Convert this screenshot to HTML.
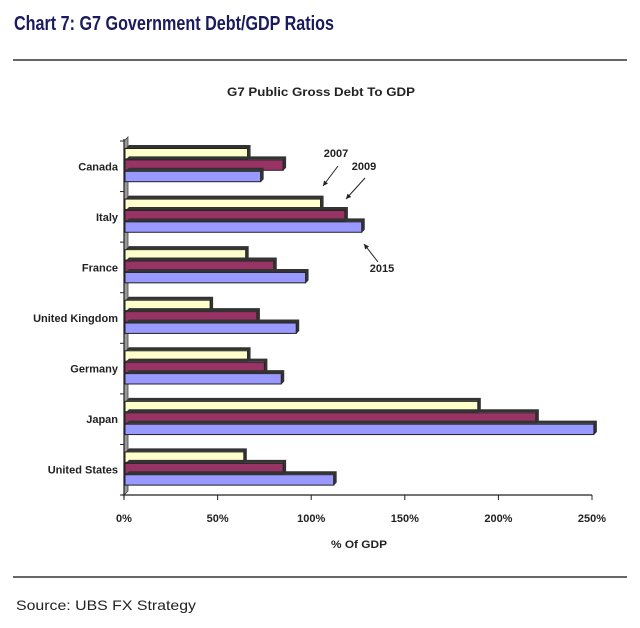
<!DOCTYPE html>
<html><head><meta charset="utf-8"><style>
body{margin:0;background:#fff}
svg{display:block}
text{font-family:"Liberation Sans",sans-serif}
</style></head><body>
<svg id="c" width="640" height="628" viewBox="0 0 640 628">
<text x="14" y="30" font-size="20" font-weight="bold" fill="#1a1a5e" textLength="320" lengthAdjust="spacingAndGlyphs">Chart 7: G7 Government Debt/GDP Ratios</text>
<line x1="13" y1="60" x2="627" y2="60" stroke="#333" stroke-width="1.5"/>
<text x="321" y="96" font-size="12" font-weight="bold" fill="#222" text-anchor="middle" textLength="188" lengthAdjust="spacingAndGlyphs">G7 Public Gross Debt To GDP</text>
<text x="359" y="548" font-size="11" font-weight="bold" fill="#222" text-anchor="middle" textLength="56" lengthAdjust="spacingAndGlyphs">% Of GDP</text>
<line x1="13" y1="577" x2="627" y2="577" stroke="#333" stroke-width="1.5"/>
<text x="16" y="610" font-size="14" fill="#222" textLength="180" lengthAdjust="spacingAndGlyphs">Source: UBS FX Strategy</text>
<g id="plot"></g>
</svg>
<script>
const categories=["Canada","Italy","France","United Kingdom","Germany","Japan","United States"];
const s2007=[66,105,65,46,66,189,64];
const s2009=[85,118,80,71,75,220,85];
const s2015=[73,127,97,92,84,251,112];
const seriesNames=["2007","2009","2015"];
const tickValues=[0,50,100,150,200,250];
const tickLabels=["0%","50%","100%","150%","200%","250%"];
const colors=["#ffffcc","#993366","#9999ff"];
const NS="http://www.w3.org/2000/svg";
const g=document.getElementById('plot');
const X0=124,X1=592,Y0=141,Y1=495;
const xs=v=>X0+(v/250)*(X1-X0);
const band=(Y1-Y0)/categories.length;
const yc=i=>Y0+i*band;
function mk(t,a,p){const e=document.createElementNS(NS,t);for(const k in a)e.setAttribute(k,a[k]);(p||g).appendChild(e);return e;}
let w=mk('polygon',{points:`${X0},${Y0} ${X0+4},${Y0-4} ${X0+4},${Y1-4} ${X0},${Y1}`,fill:'#999',stroke:'#444','stroke-width':0.8});


let ya=mk('line',{x1:X0,y1:Y0-2,x2:X0,y2:Y1+3,stroke:'#222','stroke-width':1.2});


let xa=mk('line',{x1:X0-2,y1:Y1,x2:X1,y2:Y1,stroke:'#222','stroke-width':1.2});


tickValues.forEach((v,i)=>{
 const tk=mk('line',{x1:xs(v),y1:Y1,x2:xs(v),y2:Y1+5,stroke:'#222'});
 
 
 const t=mk('text',{x:xs(v),y:Y1+27,'font-size':11,'font-weight':'bold','text-anchor':'middle',fill:'#222'});
 t.textContent=tickLabels[i];
 
 
});
for(let i=0;i<=categories.length;i++){
 const tk=mk('line',{x1:X0-4,y1:yc(i),x2:X0,y2:yc(i),stroke:'#222'});
 
 
}
const series=[s2007,s2009,s2015];
const bh=11.4,d=3;
categories.forEach((c,i)=>{
 const t=mk('text',{x:118,y:yc(i)+band/2+4,'font-size':11,'font-weight':'bold','text-anchor':'end',fill:'#222'});
 t.textContent=c;
 
 
 series.forEach((s,k)=>{
  const y=yc(i)+7+k*bh, xe=xs(s[i]);
  const sh=mk('polygon',{points:`${X0+2},${y} ${X0+2+d},${y-d} ${xe+d},${y-d} ${xe+d},${y+bh-d} ${xe},${y+bh} ${xe},${y}`,fill:'#333'});
  
  
  const r=mk('rect',{x:X0+1,y:y+0.5,width:xe-X0-1,height:bh-1,fill:colors[k],stroke:'#222','stroke-width':1});
  
  
 });
});
const ann=[["2007",336,157],["2009",364,170],["2015",382,272]];
ann.forEach(a=>{
 const t=mk('text',{x:a[1],y:a[2],'font-size':11,'font-weight':'bold','text-anchor':'middle',fill:'#222'});
 t.textContent=a[0];
 
 
});
[[338,166,323,186],[365,178,346,199],[378,262,364,244]].forEach(l=>{
 const ln=mk('line',{x1:l[0],y1:l[1],x2:l[2],y2:l[3],stroke:'#222','stroke-width':1});
 
 
 const dx=l[2]-l[0],dy=l[3]-l[1],L=Math.hypot(dx,dy),ux=dx/L,uy=dy/L;
 const hd=mk('polygon',{points:`${l[2]},${l[3]} ${l[2]-ux*5-uy*2.5},${l[3]-uy*5+ux*2.5} ${l[2]-ux*5+uy*2.5},${l[3]-uy*5-ux*2.5}`,fill:'#222'});
 
 
});
</script>
</body></html>
